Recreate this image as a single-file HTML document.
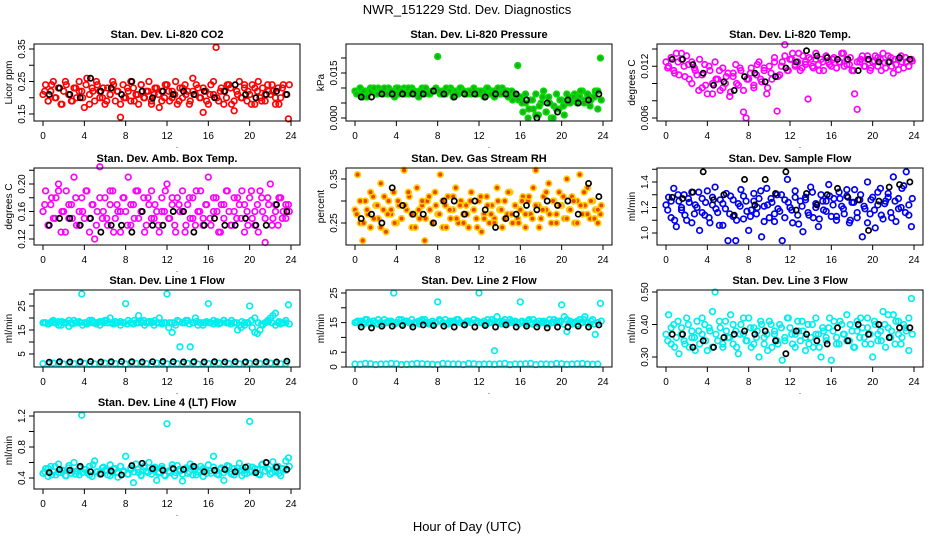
<!DOCTYPE html>
<html><head><meta charset="utf-8"><style>
html,body{margin:0;padding:0;background:#fff;}
svg{display:block;font-family:"Liberation Sans",Arial,sans-serif;}
</style></head><body>
<svg id="chart" width="936" height="540" viewBox="0 0 936 540">
<text x="467" y="14" text-anchor="middle" font-size="13">NWR_151229  Std. Dev. Diagnostics</text>
<text x="467" y="531" text-anchor="middle" font-size="13">Hour of Day (UTC)</text>
</svg>
<script>
const xTicks=[0,4,8,12,16,20,24];
const co2Color=[0.21,0.24,0.19,0.22,0.25,0.20,0.23,0.18,0.22,0.24,0.21,0.19,0.23,0.20,0.25,0.22,0.17,0.26,0.21,0.23,0.19,0.24,0.22,0.20,
0.18,0.23,0.21,0.25,0.19,0.22,0.14,0.24,0.20,0.22,0.19,0.23,0.21,0.18,0.24,0.20,0.22,0.25,0.19,0.21,0.23,0.17,0.22,0.20,
0.24,0.19,0.22,0.21,0.18,0.23,0.20,0.24,0.22,0.19,0.26,0.21,0.23,0.20,0.155,0.22,0.18,0.24,0.21,0.355,0.19,0.23,0.22,0.20,
0.24,0.18,0.16,0.22,0.25,0.20,0.23,0.19,0.21,0.24,0.18,0.22,0.20,0.23,0.19,0.24,0.21,0.22,0.18,0.23,0.20,0.24,0.21,0.135];
const co2ColorB=[0.22,0.19,0.24,0.20,0.23,0.18,0.25,0.21,0.19,0.23,0.22,0.20,0.24,0.18,0.22,0.25,0.20,0.23,0.19,0.21,0.24,0.22,0.18,0.20,
0.23,0.25,0.19,0.21,0.24,0.20,0.22,0.18,0.23,0.21,0.19,0.24,0.22,0.20,0.25,0.19,0.23,0.21,0.18,0.22,0.24,0.20,0.23,0.19,
0.21,0.25,0.20,0.22,0.18,0.24,0.23,0.19,0.21,0.20,0.24,0.22,0.18,0.23,0.25,0.19,0.21,0.22,0.24,0.20,0.18,0.23,0.21,0.24];
const co2Black=[0.21,0.23,0.21,0.20,0.26,0.22,0.23,0.21,0.25,0.22,0.20,0.22,0.21,0.22,0.21,0.22,0.20,0.22,0.24,0.21,0.20,0.21,0.22,0.21];
const presColor=[0.009,0.008,0.010,0.007,0.009,0.008,0.010,0.009,0.008,0.010,0.009,0.008,0.009,0.010,0.008,0.009,0.010,0.008,0.009,0.010,0.009,0.008,0.010,0.009,
0.008,0.009,0.010,0.008,0.009,0.008,0.009,0.009,0.0205,0.008,0.009,0.008,0.009,0.010,0.008,0.009,0.008,0.010,0.009,0.008,0.009,0.008,0.009,0.008,
0.009,0.008,0.009,0.010,0.008,0.009,0.007,0.009,0.008,0.010,0.008,0.009,0.007,0.006,0.008,0.0175,0.007,0.002,0.005,0.000,0.006,0.003,0.008,0.001,
0.005,0.009,0.002,0.007,0.000,0.004,0.008,0.003,0.006,0.001,0.005,0.007,0.006,0.008,0.005,0.007,0.009,0.006,0.008,0.004,0.007,0.009,0.003,0.020];
const presColorB=[0.008,0.010,0.009,0.007,0.009,0.010,0.008,0.009,0.010,0.008,0.009,0.007,0.010,0.009,0.008,0.010,0.009,0.008,0.007,0.009,0.010,0.008,0.009,0.010,
0.009,0.008,0.010,0.009,0.007,0.008,0.010,0.009,0.008,0.009,0.010,0.008,0.009,0.007,0.010,0.008,0.009,0.010,0.008,0.009,0.007,0.009,0.008,0.006,
0.005,0.008,0.003,0.006,0.001,0.004,0.007,0.002,0.005,0.000,0.003,0.006,0.004,0.008,0.005,0.007,0.006,0.009,0.005,0.008,0.006,0.007,0.009,0.006];
const presBlack=[0.007,0.007,0.008,0.008,0.008,0.008,0.008,0.009,0.008,0.007,0.008,0.008,0.007,0.008,0.008,0.008,0.006,0.000,0.005,0.002,0.006,0.005,0.006,0.008];
const tempColor=[0.0125,0.012,0.013,0.0115,0.0135,0.011,0.0128,0.012,0.0132,0.0105,0.0125,0.0118,0.011,0.0128,0.0095,0.0122,0.0088,0.0115,0.010,0.0125,0.0105,0.0092,0.0118,0.0100,
0.0112,0.0090,0.0108,0.0122,0.0098,0.0115,0.0067,0.0060,0.0105,0.0118,0.0095,0.0110,0.0125,0.0102,0.0115,0.0088,0.0120,0.0105,0.0130,0.0068,0.0110,0.0125,0.0145,0.0115,
0.0128,0.0135,0.012,0.0125,0.0115,0.0132,0.0122,0.0082,0.0128,0.0118,0.0135,0.0122,0.0128,0.0115,0.0132,0.0125,0.012,0.013,0.0118,0.0125,0.0135,0.012,0.0128,0.0122,
0.0115,0.0088,0.0070,0.0125,0.0132,0.012,0.0128,0.0115,0.0125,0.0132,0.012,0.0128,0.0135,0.0118,0.0125,0.013,0.0112,0.0122,0.0128,0.0132,0.0118,0.0125,0.0120,0.0128];
const tempColorB=[0.0118,0.0130,0.0112,0.0125,0.0135,0.0108,0.0122,0.0100,0.0115,0.0092,0.0110,0.0098,0.0120,0.0088,0.0105,0.0115,0.0095,0.0108,0.0085,0.0112,0.0100,0.0118,0.0092,0.0105,
0.0112,0.0098,0.0122,0.0105,0.0118,0.0095,0.0112,0.0125,0.0108,0.0120,0.0132,0.0115,0.0128,0.0122,0.0135,0.0118,0.0125,0.0130,0.0120,0.0128,0.0115,0.0125,0.0132,0.0122,
0.0128,0.0118,0.0125,0.0135,0.0122,0.0130,0.0115,0.0125,0.0128,0.0120,0.0132,0.0118,0.0126,0.0130,0.0115,0.0124,0.0132,0.0120,0.0128,0.0116,0.0125,0.0130,0.0120,0.0126];
const tempBlack=[0.0128,0.0128,0.0122,0.0112,0.0098,0.0102,0.0092,0.0108,0.0112,0.0102,0.0108,0.0118,0.0125,0.0138,0.0132,0.0130,0.0128,0.0128,0.0115,0.0128,0.0125,0.0125,0.0130,0.0128];
const boxColor=[0.16,0.19,0.14,0.17,0.15,0.18,0.20,0.13,0.16,0.19,0.15,0.17,0.21,0.14,0.16,0.18,0.15,0.19,0.13,0.17,0.12,0.16,0.225,0.15,
0.18,0.14,0.17,0.19,0.15,0.16,0.13,0.18,0.16,0.21,0.14,0.17,0.19,0.15,0.16,0.18,0.14,0.17,0.19,0.15,0.16,0.13,0.18,0.16,
0.20,0.15,0.17,0.14,0.18,0.16,0.19,0.13,0.17,0.15,0.18,0.14,0.16,0.19,0.15,0.17,0.21,0.14,0.16,0.18,0.13,0.17,0.15,0.19,
0.16,0.14,0.18,0.15,0.17,0.19,0.13,0.16,0.18,0.15,0.14,0.17,0.19,0.16,0.115,0.18,0.20,0.15,0.17,0.14,0.18,0.16,0.15,0.17];
const boxColorB=[0.17,0.14,0.18,0.15,0.19,0.16,0.13,0.17,0.15,0.18,0.14,0.16,0.19,0.15,0.17,0.14,0.18,0.16,0.15,0.19,0.13,0.17,0.16,0.18,
0.14,0.17,0.15,0.19,0.16,0.13,0.18,0.15,0.17,0.14,0.16,0.19,0.15,0.18,0.13,0.17,0.16,0.14,0.18,0.15,0.19,0.16,0.14,0.17,
0.15,0.18,0.16,0.13,0.17,0.19,0.14,0.16,0.18,0.15,0.17,0.14,0.19,0.16,0.13,0.18,0.15,0.17,0.14,0.16,0.18,0.15,0.17,0.16];
const boxBlack=[0.14,0.15,0.15,0.14,0.15,0.13,0.14,0.14,0.13,0.16,0.14,0.14,0.16,0.16,0.13,0.14,0.15,0.14,0.14,0.15,0.14,0.14,0.17,0.16];
const rhColor=[0.28,0.36,0.25,0.21,0.30,0.27,0.24,0.31,0.29,0.26,0.34,0.28,0.23,0.30,0.27,0.32,0.25,0.29,0.26,0.37,0.28,0.31,0.24,0.27,
0.33,0.26,0.29,0.21,0.30,0.28,0.25,0.32,0.27,0.36,0.24,0.29,0.31,0.26,0.28,0.33,0.25,0.30,0.27,0.29,0.24,0.32,0.28,0.26,
0.30,0.23,0.27,0.31,0.25,0.29,0.26,0.33,0.28,0.24,0.30,0.27,0.32,0.25,0.29,0.26,0.28,0.31,0.24,0.30,0.27,0.33,0.37,0.29,
0.26,0.31,0.28,0.34,0.25,0.30,0.27,0.32,0.29,0.26,0.35,0.28,0.31,0.25,0.30,0.36,0.27,0.29,0.33,0.26,0.30,0.28,0.25,0.27];
const rhColorB=[0.27,0.30,0.25,0.28,0.32,0.26,0.29,0.24,0.31,0.27,0.28,0.25,0.30,0.26,0.29,0.32,0.27,0.24,0.28,0.30,0.26,0.31,0.25,0.29,
0.27,0.30,0.24,0.28,0.31,0.26,0.29,0.25,0.27,0.30,0.28,0.24,0.31,0.26,0.29,0.27,0.25,0.30,0.28,0.26,0.32,0.27,0.29,0.25,
0.30,0.27,0.31,0.26,0.29,0.24,0.28,0.32,0.27,0.30,0.25,0.29,0.31,0.26,0.28,0.30,0.25,0.29,0.32,0.27,0.30,0.26,0.28,0.29];
const rhBlack=[0.26,0.27,0.25,0.33,0.29,0.27,0.27,0.25,0.30,0.30,0.27,0.30,0.28,0.24,0.26,0.27,0.29,0.28,0.30,0.29,0.30,0.27,0.34,0.31];
const sampColor=[1.22,1.28,1.12,1.35,1.05,1.25,1.18,1.30,1.10,1.24,1.32,1.15,1.20,1.02,1.27,1.14,1.33,1.08,1.22,1.36,1.16,1.26,1.06,1.19,
0.94,1.29,1.13,0.94,1.23,1.34,1.11,1.25,1.02,1.18,1.31,1.15,1.27,0.97,1.21,1.35,1.12,1.24,1.09,1.30,1.17,0.94,1.26,1.42,
1.20,1.08,1.33,1.14,1.25,1.01,1.28,1.16,1.36,1.12,1.23,1.05,1.30,1.18,1.25,1.38,1.13,1.27,1.10,1.32,1.21,1.15,1.29,1.08,
1.24,1.34,1.12,1.26,0.97,1.19,1.40,1.15,1.28,1.04,1.22,1.35,1.11,1.25,1.31,1.16,1.44,1.09,1.27,1.20,1.37,1.48,1.14,1.05];
const sampColorB=[1.18,1.25,1.10,1.30,1.20,1.14,1.27,1.08,1.22,1.32,1.16,1.24,1.12,1.28,1.19,1.06,1.23,1.31,1.15,1.26,1.10,1.21,1.29,1.17,
1.13,1.25,1.20,1.33,1.09,1.22,1.27,1.15,1.19,1.30,1.12,1.24,1.18,1.28,1.07,1.21,1.26,1.14,1.32,1.20,1.11,1.25,1.17,1.29,
1.22,1.13,1.27,1.19,1.34,1.10,1.24,1.16,1.30,1.21,1.08,1.26,1.18,1.32,1.14,1.23,1.28,1.12,1.25,1.19,1.35,1.16,1.22,1.27];
const sampBlack=[1.28,1.27,1.32,1.48,1.26,1.30,1.14,1.42,1.22,1.42,1.31,1.48,1.18,1.31,1.22,1.30,1.35,1.28,1.26,1.02,1.25,1.36,1.38,1.40];
const line1Color=[18,18,17.5,18,19,18,18.5,17,18,18,16.5,18,19,18,18,30,18,17.5,18,19,18,18,17,18.5,
19,18,20,18,18.5,18,17,18,26,19,18,17.5,18,21,18,19,18,18.5,18,17,18,20,18,18,
30,18,14,18,19,8,18,18,19,8,18,20,17,18,18,18,26,18,19,18,17.5,18,19,18,
18,19,18,18,17,18.5,18,18,25,16,14,13.5,15,17,18,19,20,21,22,18,17.5,18,19,25.5];
const line1ColorB=[18,17.5,18.5,18,17,18.5,18,19,17.5,18,18.5,17,18,19,18,17.5,18.5,18,19,18,17.5,18,18.5,18,
17.5,18,19,18,18.5,17,18,18.5,19,18,17.5,18,16,18,17,18.5,18,19,17.5,18,18.5,18,17,18.5,
18,17.5,18.5,18,19,18,17.5,18,15,16,17,18,19,20,18,17.5,18,18.5,18,17,18.5,18,18,17.5];
const line1Low=[1,1.2,0.8,1,1.1,0.9,1.2,1,0.8,1.1,1,1.2,0.9,1,1.1,0.8,1,1.2,1,0.9,1.1,1,1.2,0.9];
const line1LowB=[0.9,1.1,1,1.2,0.8,1,1.1,0.9,1.2,1,0.8,1.1,1,0.9,1.2,1,1.1,0.8,1,1.2,0.9,1.1,1,1];
const line1Black=[1.6,1.8,1.7,1.8,1.9,1.7,1.8,1.9,1.8,1.7,1.8,1.9,1.8,1.7,1.8,1.7,1.8,1.7,1.8,1.7,1.7,1.8,1.7,2];
const line2Color=[15,15.5,14.5,15,16,15,14.5,15.5,15,16,15,14.5,15,15.5,15,25,15,16,14.5,15,15.5,15,16,15,
15,14.5,15.5,16,15,15,14.5,15,22,15.5,15,16,14.5,15,15.5,15,16,15,14.5,15,15.5,15,16,15,
25,15,15.5,14.5,15,16,5.5,17,15,15.5,15,14.5,16,15,15.5,15,22,15,14.5,15.5,15,16,15,14.5,
15,15.5,15,14.5,15,16,15,15.5,21,17,12,15,14.5,15,15.5,16,15,17,15,14.5,16,11,15,21.5];
const line2ColorB=[15,15.5,14.5,16,15,15.5,14.5,15,16,15,15.5,14.5,15,16,15.5,15,14.5,15,15.5,16,15,14.5,15.5,15,
16,15,14.5,15.5,15,16,15,14.5,15.5,15,16,15.5,15,14.5,16,15,15.5,15,14.5,16,15,15.5,15,14.5,
15.5,15,16,14.5,15,15.5,15,14.5,16,15,15.5,15,14.5,16,15.5,15,14.5,15,16,15,15.5,14.5,15,15.5];
const line2Low=[1,1.2,0.8,1,1.1,0.9,1.2,1,0.8,1.1,1,1.2,0.9,1,1.1,0.8,1,1.2,1,0.9,1.1,1,1.2,0.9];
const line2LowB=[0.9,1.1,1,1.2,0.8,1,1.1,0.9,1.2,1,0.8,1.1,1,0.9,1.2,1,1.1,0.8,1,1.2,0.9,1.1,1,1];
const line2Black=[13.5,13.2,13.8,13.8,14,13.5,14.2,14,13.8,13.5,14.2,13.5,14,13.5,14.2,13.5,13.8,13.5,13.2,13.5,13.5,13.8,13.5,14.2];
const line3Color=[0.37,0.43,0.34,0.40,0.36,0.31,0.39,0.35,0.42,0.33,0.38,0.36,0.41,0.34,0.37,0.40,0.32,0.38,0.44,0.50,0.35,0.39,0.33,0.41,
0.36,0.43,0.34,0.38,0.31,0.40,0.37,0.35,0.42,0.33,0.39,0.36,0.30,0.40,0.34,0.37,0.41,0.33,0.38,0.35,0.40,0.29,0.36,0.42,
0.39,0.34,0.37,0.41,0.35,0.38,0.32,0.40,0.36,0.33,0.42,0.37,0.30,0.38,0.35,0.39,0.29,0.41,0.36,0.34,0.40,0.37,0.43,0.35,
0.38,0.33,0.41,0.36,0.39,0.34,0.42,0.37,0.30,0.40,0.35,0.38,0.44,0.33,0.39,0.36,0.43,0.41,0.37,0.34,0.40,0.38,0.32,0.48];
const line3ColorB=[0.35,0.39,0.33,0.41,0.37,0.34,0.40,0.36,0.32,0.38,0.42,0.35,0.39,0.33,0.37,0.41,0.34,0.38,0.36,0.40,0.33,0.37,0.42,0.35,
0.39,0.34,0.38,0.41,0.36,0.32,0.40,0.37,0.34,0.39,0.35,0.42,0.37,0.33,0.38,0.41,0.36,0.34,0.40,0.37,0.33,0.39,0.36,0.42,
0.38,0.34,0.41,0.37,0.35,0.40,0.33,0.38,0.42,0.36,0.39,0.34,0.41,0.37,0.35,0.40,0.43,0.38,0.34,0.41,0.36,0.39,0.42,0.37];
const line3Black=[0.37,0.37,0.33,0.35,0.33,0.36,0.37,0.38,0.37,0.38,0.35,0.31,0.38,0.37,0.35,0.34,0.39,0.35,0.40,0.37,0.40,0.36,0.39,0.39];
const line4Color=[0.46,0.52,0.42,0.55,0.48,0.44,0.58,0.47,0.50,0.43,0.53,0.46,0.60,0.49,0.44,1.21,0.51,0.47,0.55,0.42,0.62,0.48,0.45,0.53,
0.50,0.44,0.57,0.47,0.52,0.41,0.55,0.48,0.68,0.45,0.51,0.34,0.58,0.47,0.43,0.54,0.49,0.60,0.45,0.52,0.37,0.48,0.55,0.44,
1.10,0.47,0.53,0.43,0.56,0.49,0.36,0.51,0.46,0.58,0.44,0.52,0.48,0.55,0.42,0.50,0.57,0.46,0.68,0.49,0.44,0.53,0.37,0.50,
0.55,0.45,0.52,0.48,0.59,0.43,0.50,0.46,1.13,0.54,0.47,0.51,0.44,0.58,0.49,0.52,0.45,0.61,0.48,0.55,0.43,0.52,0.62,0.66];
const line4ColorB=[0.48,0.52,0.44,0.55,0.47,0.50,0.43,0.56,0.49,0.45,0.53,0.47,0.51,0.44,0.57,0.48,0.46,0.54,0.50,0.43,0.52,0.47,0.55,0.49,
0.45,0.53,0.48,0.51,0.44,0.56,0.47,0.50,0.54,0.46,0.52,0.43,0.49,0.57,0.47,0.51,0.45,0.53,0.48,0.55,0.44,0.50,0.52,0.46,
0.49,0.54,0.45,0.51,0.47,0.56,0.48,0.44,0.53,0.50,0.46,0.55,0.48,0.52,0.45,0.57,0.49,0.51,0.47,0.54,0.46,0.52,0.50,0.55];
const line4Black=[0.47,0.51,0.50,0.55,0.48,0.45,0.49,0.44,0.56,0.59,0.52,0.50,0.52,0.51,0.55,0.48,0.50,0.51,0.48,0.54,0.47,0.60,0.54,0.51];

const NS='http://www.w3.org/2000/svg';
const svg=document.getElementById('chart');
function mk(tag,attrs,parent){const e=document.createElementNS(NS,tag);for(const k in attrs)e.setAttribute(k,attrs[k]);(parent||svg).appendChild(e);return e;}
const cols=[34,346,657], rows=[44,168,290,412], W=266, H=77;
const panels=[
 {key:'co2',title:'Stan. Dev. Li-820 CO2',ylab:'Licor ppm',c:0,r:0,y0:0.15,y1:0.35,y0px:114,y1px:49,ticks:[0.15,0.20,0.25,0.30,0.35],labels:['0.15','','0.25','','0.35'],color:'#ff0000',fill:'none',series:[co2Color,co2ColorB],black:co2Black},
 {key:'pressure',title:'Stan. Dev. Li-820 Pressure',ylab:'kPa',c:1,r:0,y0:0,y1:0.015,y0px:118,y1px:73,ticks:[0,0.005,0.010,0.015,0.020],labels:['0.000','','','0.015',''],color:'#00dd00',fill:'#22aa22',series:[presColor,presColorB],black:presBlack},
 {key:'li820-temp',title:'Stan. Dev. Li-820 Temp.',ylab:'degrees C',c:2,r:0,y0:0.006,y1:0.014,y0px:118,y1px:49,ticks:[0.006,0.008,0.010,0.012,0.014],labels:['0.006','','','0.012',''],color:'#ff00ff',fill:'none',series:[tempColor,tempColorB],black:tempBlack},
 {key:'amb-box-temp',title:'Stan. Dev. Amb. Box Temp.',ylab:'degrees C',c:0,r:1,y0:0.12,y1:0.20,y0px:239,y1px:184,ticks:[0.12,0.14,0.16,0.18,0.20,0.22],labels:['0.12','','0.16','','0.20',''],color:'#ff00ff',fill:'none',series:[boxColor,boxColorB],black:boxBlack},
 {key:'gas-rh',title:'Stan. Dev. Gas Stream RH',ylab:'percent',c:1,r:1,y0:0.25,y1:0.35,y0px:223,y1px:179,ticks:[0.25,0.30,0.35],labels:['0.25','','0.35'],color:'#ffcc00',fill:'#ee4400',series:[rhColor,rhColorB],black:rhBlack},
 {key:'sample-flow',title:'Stan. Dev. Sample Flow',ylab:'ml/min',c:2,r:1,y0:1.0,y1:1.4,y0px:233,y1px:182,ticks:[1.0,1.1,1.2,1.3,1.4,1.5],labels:['1.0','','1.2','','1.4',''],color:'#0000ee',fill:'none',series:[sampColor,sampColorB],black:sampBlack},
 {key:'line1-flow',title:'Stan. Dev. Line 1 Flow',ylab:'ml/min',c:0,r:2,y0:5,y1:25,y0px:354,y1px:306,ticks:[5,10,15,20,25,30],labels:['5','','15','','25',''],color:'#00eeee',fill:'none',series:[line1Color,line1ColorB,line1Low,line1LowB],black:line1Black},
 {key:'line2-flow',title:'Stan. Dev. Line 2 Flow',ylab:'ml/min',c:1,r:2,y0:0,y1:25,y0px:367,y1px:293,ticks:[0,5,10,15,20,25],labels:['0','5','','15','','25'],color:'#00eeee',fill:'none',series:[line2Color,line2ColorB,line2Low,line2LowB],black:line2Black},
 {key:'line3-flow',title:'Stan. Dev. Line 3 Flow',ylab:'ml/min',c:2,r:2,y0:0.30,y1:0.50,y0px:357,y1px:292,ticks:[0.30,0.40,0.50],labels:['0.30','0.40','0.50'],color:'#00eeee',fill:'none',series:[line3Color,line3ColorB],black:line3Black},
 {key:'line4-flow',title:'Stan. Dev. Line 4 (LT) Flow',ylab:'ml/min',c:0,r:3,y0:0.4,y1:1.2,y0px:478,y1px:416,ticks:[0.4,0.6,0.8,1.0,1.2],labels:['0.4','','0.8','','1.2'],color:'#00eeee',fill:'none',series:[line4Color,line4ColorB],black:line4Black}
];
panels.forEach(p=>{
 const L=cols[p.c], T=rows[p.r];
 const g=mk('g',{});
 
 
 const xs=h=>L+9+h*(W-18)/24;
 const ys=v=>p.y0px+(v-p.y0)*(p.y1px-p.y0px)/(p.y1-p.y0);
 const t=mk('text',{x:L+W/2,y:T-6,'text-anchor':'middle','font-size':'11','font-weight':'bold'},g);
 t.textContent=p.title;
 
 
 const yl=mk('text',{x:L-22,y:(T+T+H)/2,'text-anchor':'middle','font-size':'10',transform:`rotate(-90 ${L-22} ${(T+T+H)/2})`},g);
 yl.textContent=p.ylab;
 
 
 const pg=mk('g',{},g);
 
 
 p.series.forEach((s,si)=>{
  const n=s.length, off=(si%2)?0.5:0;
  s.forEach((v,i)=>{
   const c=mk('circle',{cx:xs((i+off)*24/n),cy:ys(v),r:2.8,fill:p.fill,stroke:p.color,'stroke-width':1.7},pg);
   
   
  });
 });
 p.black.forEach((v,i)=>{
  const c=mk('circle',{cx:xs(i+0.6),cy:ys(v),r:2.6,fill:'none',stroke:'#000','stroke-width':1.7},pg);
  
  
 });
 const box=mk('rect',{x:L,y:T,width:W,height:H,fill:'none',stroke:'#000','stroke-width':1},g);
 
 
 p.ticks.forEach((v,i)=>{
  const y=ys(v);
  if(y<T-1||y>T+H+1)return;
  mk('line',{x1:L-5,x2:L,y1:y,y2:y,stroke:'#000'},g);
  if(p.labels[i]){
   const tl=mk('text',{x:L-9,y:y,'text-anchor':'middle','font-size':'10',transform:`rotate(-90 ${L-9} ${y})`},g);
   tl.textContent=p.labels[i];
   
   
  }
 });
 xTicks.forEach(h=>{
  const x=xs(h);
  mk('line',{x1:x,x2:x,y1:T+H,y2:T+H+5,stroke:'#000'},g);
  const tl=mk('text',{x:x,y:T+H+18,'text-anchor':'middle','font-size':'10'},g);
  tl.textContent=String(h);
  
  
 });
 const dot=mk('text',{x:L+W/2+10,y:T+H+27,'text-anchor':'middle','font-size':'8'},g);
 dot.textContent='.';
});
</script>
</body></html>
